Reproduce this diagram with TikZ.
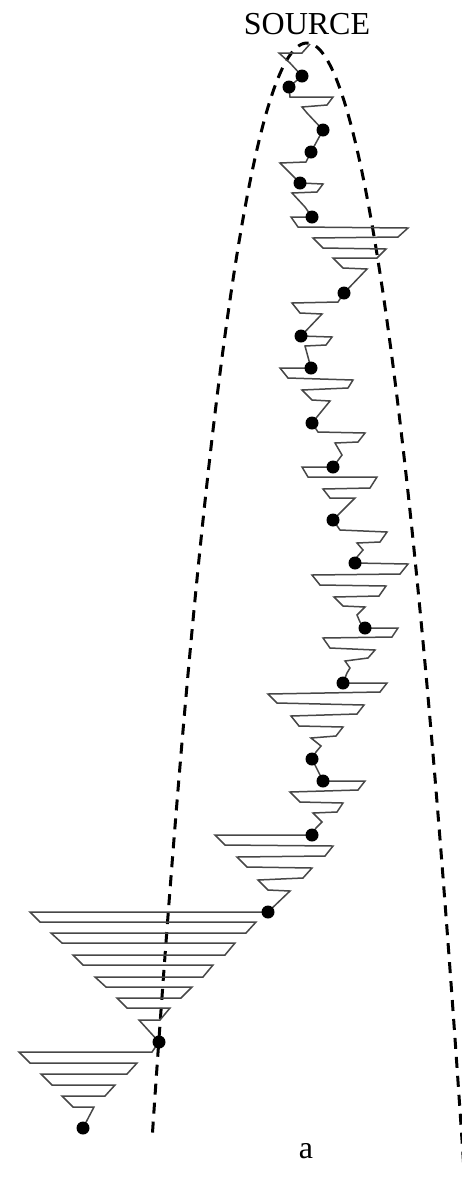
\documentclass[tikz,border=0pt]{standalone}
\usepackage{fontspec}
\setmainfont{Liberation Serif}
\begin{document}
\begin{tikzpicture}[x=1pt,y=-1pt,
  zz/.style={draw=black!72, line width=1.5pt, line join=miter},
  dotn/.style={circle, fill=black, inner sep=0pt, minimum size=13pt},
  para/.style={draw=black, line width=3pt, dash pattern=on 11pt off 8pt},
  lbl/.style={font=\fontsize{32}{32}\selectfont, inner sep=0pt}]
\useasboundingbox (0,0) rectangle (461,1179);
% dashed envelope
\draw[para] plot[domain=-154.5:157, samples=150, variable=\t]
  ({307+\t},{43+(\t/10)*(\t/10)*(4.1+0.003*abs(\t))});
% dot positions
\coordinate (top) at (310,44);
\coordinate (d1) at (302,76);
\coordinate (d2) at (289,87);
\coordinate (d3) at (323,130);
\coordinate (d4) at (311,152);
\coordinate (d5) at (300,183);
\coordinate (d6) at (312,217);
\coordinate (d7) at (344,293);
\coordinate (d8) at (301,336);
\coordinate (d9) at (311,368);
\coordinate (d10) at (312,423);
\coordinate (d11) at (333,467);
\coordinate (d12) at (333,520);
\coordinate (d13) at (355,563);
\coordinate (d14) at (365,628);
\coordinate (d15) at (343,683);
\coordinate (d16) at (312,759);
\coordinate (d17) at (323,781);
\coordinate (d18) at (312,835);
\coordinate (d19) at (268,912);
\coordinate (d20) at (159,1042);
\coordinate (d21) at (83,1128);
% zigzag chain
\draw[zz] (top) -- (302,53) -- (279,53) -- (290,63) -- (d1) -- (d2)
  -- (290,97) -- (333,97) -- (327,105) -- (302,107) -- (307,113) -- (d3)
  -- (d4) -- (306,162) -- (280,163) -- (d5)
  -- (323,184) -- (317,192) -- (292,193) -- (305,207) -- (d6)
  -- (291,217) -- (298,227) -- (408,228) -- (398,237) -- (313,238) -- (323,248)
  -- (386,249) -- (377,258) -- (333,258) -- (343,268) -- (367,269) -- (d7)
  -- (338,302) -- (292,303) -- (300,313) -- (322,314) -- (d8)
  -- (332,337) -- (326,345) -- (305,346) -- (d9)
  -- (280,368) -- (288,378) -- (353,380) -- (348,388) -- (302,390) -- (312,400)
  -- (330,401) -- (d10)
  -- (318,432) -- (365,433) -- (358,442) -- (335,443) -- (342,455) -- (d11)
  -- (302,467) -- (308,477) -- (377,477) -- (370,488) -- (323,489) -- (330,498)
  -- (355,498) -- (d12)
  -- (340,530) -- (387,532) -- (380,542) -- (357,543) -- (363,550) -- (357,557) -- (d13)
  -- (408,564) -- (400,574) -- (312,575) -- (320,585) -- (386,586) -- (379,596)
  -- (334,597) -- (343,606) -- (365,607) -- (357,615) -- (360,622) -- (d14)
  -- (398,628) -- (392,637) -- (323,638) -- (330,648) -- (375,650) -- (368,658)
  -- (345,661) -- (350,668) -- (347,673) -- (d15)
  -- (387,683) -- (380,692) -- (268,694) -- (277,703) -- (364,705) -- (357,714)
  -- (291,716) -- (299,726) -- (343,727) -- (336,736) -- (311,738) -- (321,746)
  -- (316,752) -- (d16) -- (d17)
  -- (365,781) -- (358,790) -- (290,792) -- (300,802) -- (343,803) -- (337,812)
  -- (313,813) -- (322,822) -- (316,828) -- (d18)
  -- (215,835) -- (225,845) -- (333,846) -- (325,856) -- (237,857) -- (247,867)
  -- (312,868) -- (303,878) -- (258,880) -- (268,890) -- (290,891) -- (d19)
  -- (30,912) -- (40,922) -- (256,922) -- (246,933) -- (51,933) -- (62,943)
  -- (235,943) -- (225,955) -- (73,955) -- (83,965) -- (213,965) -- (203,977)
  -- (95,977) -- (106,987) -- (192,987) -- (181,998) -- (117,998) -- (127,1008)
  -- (170,1008) -- (160,1020) -- (139,1020) -- (d20)
  -- (152,1052) -- (19,1052) -- (30,1063) -- (137,1063) -- (127,1074) -- (41,1074)
  -- (52,1085) -- (115,1085) -- (105,1096) -- (62,1096) -- (73,1107) -- (94,1107)
  -- (d21);
% dots
\foreach \i in {1,...,21} \node[dotn] (n\i) at (d\i) {};
% labels
\node[lbl] (src) at (307,24) {SOURCE};
\node[lbl] (lab) at (306,1151) {a};
\end{tikzpicture}
\end{document}
